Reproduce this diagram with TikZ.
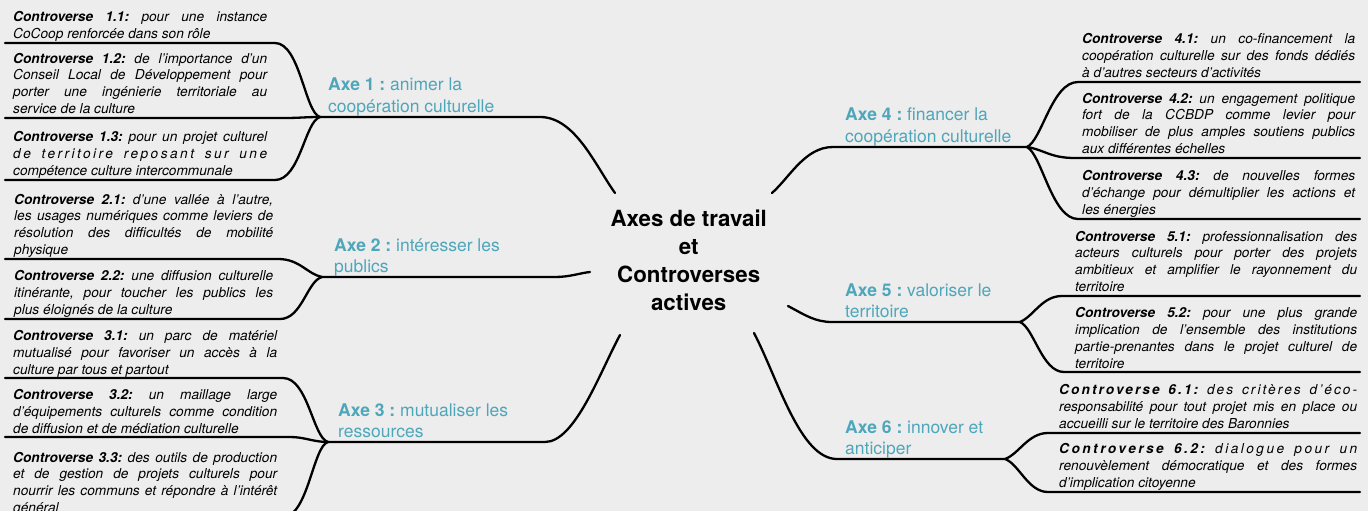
\documentclass[tikz,border=0pt]{standalone}
\usepackage{fontspec}
\setmainfont{TeX Gyre Heros}
\definecolor{bgcol}{RGB}{237,237,237}
\definecolor{axecol}{RGB}{77,166,186}
\newcommand{\cv}[1]{\textbf{Controverse #1}}
\newcommand{\lsp}[2]{{\addfontfeature{LetterSpace=#1}#2}}
\newcommand{\ctx}[2]{\parbox[b]{#1}{\spaceskip=0pt\xspaceskip=0pt\tolerance=10000
  \hyphenpenalty=10000\exhyphenpenalty=10000\emergencystretch=0pt\parindent=0pt
  \leftskip=0pt\rightskip=0pt\parfillskip=0pt plus 1fil #2}}
\newcommand{\axt}[1]{\parbox[b]{230pt}{\raggedright\spaceskip=0pt\xspaceskip=0pt #1}}
\setlength{\parindent}{0pt}
\tikzset{
  ctxt/.style={anchor=base west, inner sep=0pt,
    font=\fontsize{13.7}{16.8}\selectfont\itshape},
  axe/.style={anchor=base west, inner sep=0pt, text=axecol,
    font=\fontsize{17.5}{21}\selectfont},
  branch/.style={draw=black, line width=2.3pt, line cap=round, line join=round},
}
\begin{document}
\frenchspacing
\begin{tikzpicture}[x=1pt, y=-1pt]
\useasboundingbox (0,0) rectangle (1368,511);
\fill[bgcol] (0,0) rectangle (1368,511);

% title
\node[anchor=base, inner sep=0pt, font=\fontsize{22.3}{28}\selectfont\bfseries] (title) at (688.7,310.7)
  {\parbox[b]{200pt}{\centering\spaceskip=0pt Axes de travail\\et\\Controverses\\actives}};

% coordinates
\coordinate (J1) at (320,117);
\coordinate (J2) at (322,277);
\coordinate (J3) at (328,442);
\coordinate (J4) at (1027,147);
\coordinate (J5) at (1020,322);
\coordinate (J6) at (1005,459);
\coordinate (t1) at (615,193);
\coordinate (t2) at (590,272);
\coordinate (t3) at (620,335);
\coordinate (t4) at (772,193);
\coordinate (t5) at (788,306);
\coordinate (t6) at (754,333);
\coordinate (h1) at (540,117);
\coordinate (h2) at (555,277);
\coordinate (h3) at (545,442);
\coordinate (h4) at (833,147);
\coordinate (h5) at (832,322);
\coordinate (h6) at (837,459);

\coordinate (u11s) at (5,43);   \coordinate (u11e) at (275,43);
\coordinate (u12s) at (5,118);  \coordinate (u12e) at (285,118);
\coordinate (u13s) at (5,180);  \coordinate (u13e) at (275,180);
\coordinate (u21s) at (5,259);  \coordinate (u21e) at (278,259);
\coordinate (u22s) at (5,319);  \coordinate (u22e) at (280,319);
\coordinate (u31s) at (5,378);  \coordinate (u31e) at (283,378);
\coordinate (u32s) at (5,437);  \coordinate (u32e) at (290,437);
\coordinate (u33s) at (5,517);  \coordinate (u33e) at (283,517);

\coordinate (u41s) at (1078,82);  \coordinate (u41e) at (1360,82);
\coordinate (u42s) at (1075,158); \coordinate (u42e) at (1360,158);
\coordinate (u43s) at (1078,219); \coordinate (u43e) at (1360,219);
\coordinate (u51s) at (1062,296); \coordinate (u51e) at (1360,296);
\coordinate (u52s) at (1064,372); \coordinate (u52e) at (1360,372);
\coordinate (u61s) at (1048,433); \coordinate (u61e) at (1360,433);
\coordinate (u62s) at (1048,492); \coordinate (u62e) at (1360,492);

% axis connectors
\draw[branch] (J1) -- (h1) .. controls +(35,0) and +(-20,-28) .. (t1);
\draw[branch] (J2) -- (h2) .. controls +(15,0) and +(-10,1) .. (t2);
\draw[branch] (J3) -- (h3) .. controls +(30,0) and +(-20,37) .. (t3);
\draw[branch] (t4) .. controls +(18,-16) and +(-28,0) .. (h4) -- (J4);
\draw[branch] (t5) .. controls +(17,9) and +(-17,0) .. (h5) -- (J5);
\draw[branch] (t6) .. controls +(24,46) and +(-37,0) .. (h6) -- (J6);

% left branches
\draw[branch] (u11s) -- (u11e) .. controls +(25,0) and +(-15,-4) .. (J1);
\draw[branch] (u12s) -- (u12e) .. controls +(15,0) and +(-15,0) .. (J1);
\draw[branch] (u13s) -- (u13e) .. controls +(25,0) and +(-15,4) .. (J1);
\draw[branch] (u21s) -- (u21e) .. controls +(22,0) and +(-15,-3) .. (J2);
\draw[branch] (u22s) -- (u22e) .. controls +(22,0) and +(-15,4) .. (J2);
\draw[branch] (u31s) -- (u31e) .. controls +(25,0) and +(-15,-4) .. (J3);
\draw[branch] (u32s) -- (u32e) .. controls +(15,0) and +(-15,0) .. (J3);
\draw[branch] (u33s) -- (u33e) .. controls +(25,0) and +(-15,4) .. (J3);

% right branches
\draw[branch] (J4) .. controls +(15,-7) and +(-26,0) .. (u41s) -- (u41e);
\draw[branch] (J4) .. controls +(18,3) and +(-25,0) .. (u42s) -- (u42e);
\draw[branch] (J4) .. controls +(15,8) and +(-26,0) .. (u43s) -- (u43e);
\draw[branch] (J5) .. controls +(14,-6) and +(-20,0) .. (u51s) -- (u51e);
\draw[branch] (J5) .. controls +(14,6) and +(-22,0) .. (u52s) -- (u52e);
\draw[branch] (J6) .. controls +(14,-5) and +(-20,0) .. (u61s) -- (u61e);
\draw[branch] (J6) .. controls +(14,5) and +(-20,0) .. (u62s) -- (u62e);

% axis labels
\node[axe] (ax1) at (328,112) {\axt{\textbf{Axe 1 :} animer la\\coopération culturelle}};
\node[axe] (ax2) at (334,272) {\axt{\textbf{Axe 2 :} intéresser les\\publics}};
\node[axe] (ax3) at (338,437) {\axt{\textbf{Axe 3 :} mutualiser les\\ressources}};
\node[axe] (ax4) at (845,142) {\axt{\textbf{Axe 4 :} financer la\\coopération culturelle}};
\node[axe] (ax5) at (845,317) {\axt{\textbf{Axe 5 :} valoriser le\\territoire}};
\node[axe] (ax6) at (845,454) {\axt{\textbf{Axe 6 :} innover et\\anticiper}};

% left controversies
\node[ctxt] (c11) at (13,38.5) {\ctx{254pt}{\cv{1.1:} pour une instance\linebreak CoCoop renforcée dans son rôle}};
\node[ctxt] (c12) at (13,113.5) {\ctx{254pt}{\cv{1.2:} de l’importance d’un\linebreak Conseil Local de Développement pour\linebreak porter une ingénierie territoriale au\linebreak service de la culture}};
\node[ctxt] (c13) at (13,175.5) {\ctx{254pt}{\cv{1.3:} pour un projet culturel\linebreak \lsp{18}{de territoire reposant sur une}\linebreak compétence culture intercommunale}};
\node[ctxt] (c21) at (14,254.5) {\ctx{259pt}{\cv{2.1:} d’une vallée à l’autre,\linebreak les usages numériques comme leviers de\linebreak résolution des difficultés de mobilité\linebreak physique}};
\node[ctxt] (c22) at (14,314.5) {\ctx{259pt}{\cv{2.2:} une diffusion culturelle\linebreak itinérante, pour toucher les publics les\linebreak plus éloignés de la culture}};
\node[ctxt] (c31) at (13,374) {\ctx{264pt}{\cv{3.1:} un parc de matériel\linebreak mutualisé pour favoriser un accès à la\linebreak culture par tous et partout}};
\node[ctxt] (c32) at (13,433.5) {\ctx{264pt}{\cv{3.2:} un maillage large\linebreak d’équipements culturels comme condition\linebreak de diffusion et de médiation culturelle}};
\node[ctxt] (c33) at (13,512.5) {\ctx{264pt}{\cv{3.3:} des outils de production\linebreak et de gestion de projets culturels pour\linebreak nourrir les communs et répondre à l’intérêt\linebreak général}};

% right controversies
\node[ctxt] (c41) at (1082,77.5) {\ctx{273pt}{\cv{4.1:} un co-financement la\linebreak coopération culturelle sur des fonds dédiés\linebreak à d’autres secteurs d’activités}};
\node[ctxt] (c42) at (1082,153.5) {\ctx{273pt}{\cv{4.2:} un engagement politique\linebreak fort de la CCBDP comme levier pour\linebreak mobiliser de plus amples soutiens publics\linebreak aux différentes échelles}};
\node[ctxt] (c43) at (1082,214.5) {\ctx{273pt}{\cv{4.3:} de nouvelles formes\linebreak d’échange pour démultiplier les actions et\linebreak les énergies}};
\node[ctxt] (c51) at (1075,291.5) {\ctx{282pt}{\cv{5.1:} professionnalisation des\linebreak acteurs culturels pour porter des projets\linebreak ambitieux et amplifier le rayonnement du\linebreak territoire}};
\node[ctxt] (c52) at (1075,368) {\ctx{282pt}{\cv{5.2:} pour une plus grande\linebreak implication de l’ensemble des institutions\linebreak partie-prenantes dans le projet culturel de\linebreak territoire}};
\node[ctxt] (c61) at (1059,428) {\ctx{298pt}{\lsp{15}{\cv{6.1:} des critères d’éco-}\linebreak responsabilité pour tout projet mis en place ou\linebreak accueilli sur le territoire des Baronnies}};
\node[ctxt] (c62) at (1059,487) {\ctx{298pt}{\lsp{18}{\cv{6.2:} dialogue pour un}\linebreak renouvèlement démocratique et des formes\linebreak d’implication citoyenne}};
\end{tikzpicture}
\end{document}
